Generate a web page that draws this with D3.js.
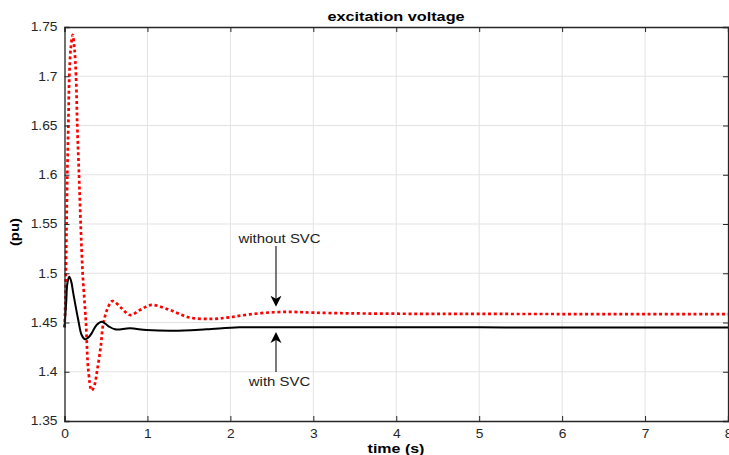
<!DOCTYPE html>
<html>
<head>
<meta charset="utf-8">
<script src="https://cdn.jsdelivr.net/npm/d3@7"></script>
<style>
  body { margin: 0; background: #fff; }
  text { font-family: "Liberation Sans", Arial, sans-serif; }
</style>
</head>
<body>
<svg id="chart" width="729" height="455"></svg>
<script>
// values
const xTicks = [0, 1, 2, 3, 4, 5, 6, 7, 8];
const yTicks = [1.35, 1.4, 1.45, 1.5, 1.55, 1.6, 1.65, 1.7, 1.75];
const yTickLabels = ["1.35", "1.4", "1.45", "1.5", "1.55", "1.6", "1.65", "1.7", "1.75"];

const withoutT = [0, 0.01, 0.02, 0.034, 0.046, 0.058, 0.075, 0.099, 0.12, 0.139, 0.154, 0.175, 0.195, 0.219, 0.259, 0.287, 0.327, 0.36, 0.395, 0.436, 0.468, 0.528, 0.58, 0.689, 0.789, 0.91, 1.05, 1.27, 1.51, 1.79, 1.99, 2.235, 2.52, 2.76, 3.0, 3.44, 4.28, 5, 6, 7, 8];
const withoutV = [1.445, 1.47, 1.52, 1.60, 1.65, 1.70, 1.728, 1.742, 1.728, 1.70, 1.65, 1.60, 1.55, 1.50, 1.449, 1.402, 1.381, 1.386, 1.402, 1.425, 1.449, 1.466, 1.4718, 1.4644, 1.4576, 1.4627, 1.4678, 1.4627, 1.455, 1.4537, 1.4553, 1.4583, 1.4604, 1.4607, 1.4600, 1.4593, 1.4588, 1.4587, 1.4586, 1.4586, 1.4586];

const withT = [0, 0.02, 0.035, 0.058, 0.08, 0.106, 0.166, 0.207, 0.247, 0.29, 0.327, 0.387, 0.448, 0.528, 0.608, 0.789, 0.99, 1.31, 1.71, 2.11, 2.84, 4, 5, 6, 8];
const withV = [1.445, 1.47, 1.49, 1.4965, 1.492, 1.4796, 1.4525, 1.4373, 1.433, 1.435, 1.439, 1.4475, 1.4508, 1.4464, 1.4431, 1.4441, 1.4424, 1.4417, 1.4431, 1.4451, 1.4451, 1.4453, 1.4451, 1.4449, 1.4448];

const title = "excitation voltage";
const xLabel = "time (s)";
const yLabel = "(pu)";
// arrow start value, arrow tip value, text baseline value
const annotations = [
    { text: "without SVC", t: 2.55, from: 1.5277, to: 1.466, label: 1.5307 },
    { text: "with SVC", t: 2.55, from: 1.3997, to: 1.4404, label: 1.3855 }
];

const svg = d3.select("#chart");
const plotLeft = 64.5, plotRight = 728, plotTop = 27, plotBottom = 421;

const x = d3.scaleLinear().domain([0, 8]).range([plotLeft, plotRight]);
const y = d3.scaleLinear().domain([1.35, 1.75]).range([plotBottom, plotTop]);

const axisColor = "#262626";
const sx = 1.15; // text in the picture is stretched sideways

// grid
svg.append("g")
    .selectAll("line")
    .data(xTicks.slice(1, -1))
    .join("line")
    .attr("x1", d => x(d)).attr("x2", d => x(d))
    .attr("y1", plotTop).attr("y2", plotBottom)
    .style("stroke", "#e3e3e3")
    .style("stroke-width", "1px");
svg.append("g")
    .selectAll("line")
    .data(yTicks.slice(1, -1))
    .join("line")
    .attr("x1", plotLeft).attr("x2", plotRight)
    .attr("y1", d => y(d)).attr("y2", d => y(d))
    .style("stroke", "#e3e3e3")
    .style("stroke-width", "1px");

// curves
const line = d3.line()
    .x(d => x(d[0]))
    .y(d => y(d[1]))
    .curve(d3.curveCatmullRom.alpha(0.5));

svg.append("path")
    .datum(withoutT.map((t, i) => [t, withoutV[i]]))
    .attr("d", line)
    .style("fill", "none")
    .style("stroke", "#ff0000")
    .style("stroke-width", "2.7px")
    .style("stroke-dasharray", "3 2.7");

svg.append("path")
    .datum(withT.map((t, i) => [t, withV[i]]))
    .attr("d", line)
    .style("fill", "none")
    .style("stroke", "#000")
    .style("stroke-width", "2px");

// axes with inward ticks on all four sides
const xAxis = d3.axisBottom(x).tickValues(xTicks).tickSize(-5).tickPadding(8).tickFormat(d3.format("d"));
const yAxis = d3.axisLeft(y).tickValues(yTicks).tickSize(-5).tickPadding(8).tickFormat((d, i) => yTickLabels[i]);

const gx = svg.append("g").attr("transform", `translate(0 ${plotBottom})`).call(xAxis);
const gy = svg.append("g").attr("transform", `translate(${plotLeft} 0)`).call(yAxis);
svg.append("g").attr("transform", `translate(0 ${plotTop})`)
    .call(d3.axisTop(x).tickValues(xTicks).tickSize(-5).tickFormat(""));
svg.append("g").attr("transform", `translate(${plotRight} 0)`)
    .call(d3.axisRight(y).tickValues(yTicks).tickSize(-5).tickFormat(""));

svg.selectAll(".domain").style("stroke", axisColor).style("stroke-width", "1.3px");
svg.selectAll(".tick line").style("stroke", axisColor).style("stroke-width", "1px");

gx.selectAll(".tick text")
    .style("font-size", "12px")
    .style("fill", axisColor)
    .attr("transform", `scale(${sx} 1)`)
    .attr("x", 0);
gy.selectAll(".tick text")
    .style("font-size", "12px")
    .style("fill", axisColor)
    .attr("transform", `translate(-7 0) scale(${sx} 1)`)
    .attr("x", 0);

// titles
function stretchedText(px, py, str, size, bold, scale, rotate) {
    const g = svg.append("g").attr("transform", `translate(${px} ${py})${rotate ? " rotate(-90)" : ""}`);
    g.append("text")
        .attr("transform", `scale(${scale} 1)`)
        .attr("text-anchor", "middle")
        .style("font-size", size + "px")
        .style("font-weight", bold ? "bold" : "normal")
        .style("fill", bold ? "#000" : "#222")
        .text(str);
    return g;
}

stretchedText(396, 21, title, 13, true, 1.25, false);
stretchedText(396, 453, xLabel, 13, true, 1.23, false);
stretchedText(19, 232, yLabel, 13, true, 1.15, true);

// annotation arrows
const ann = svg.append("g");
for (const a of annotations) {
    const ax = x(a.t);
    const y1 = y(a.from), y2 = y(a.to);
    const dir = y2 > y1 ? 1 : -1;
    ann.append("line")
        .attr("x1", ax).attr("x2", ax)
        .attr("y1", y1).attr("y2", y2 - dir * 8)
        .style("stroke", "#222")
        .style("stroke-width", "1.2px");
    ann.append("path")
        .attr("d", `M${ax},${y2} L${ax - 5.5},${y2 - dir * 11} L${ax},${y2 - dir * 8} L${ax + 5.5},${y2 - dir * 11} Z`)
        .style("fill", "#000");
    stretchedText(ax + 3.5, y(a.label), a.text, 13, false, sx, false);
}
</script>
</body>
</html>
